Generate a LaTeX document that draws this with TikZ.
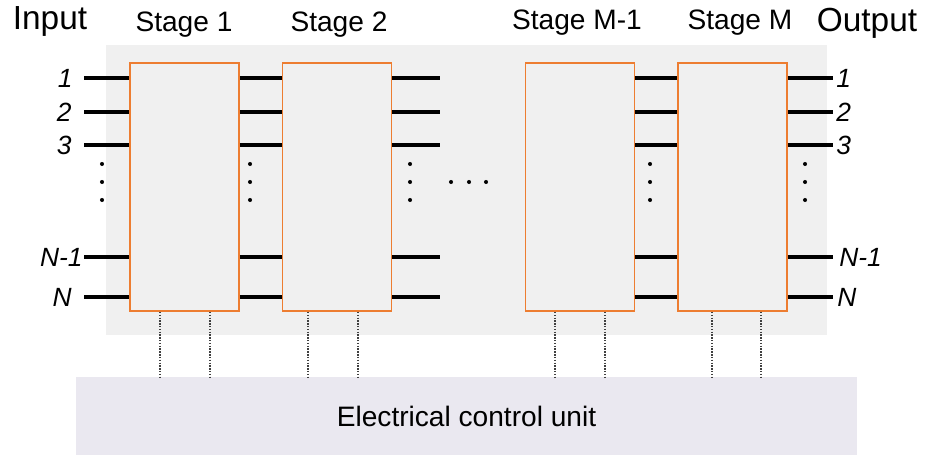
\documentclass[tikz,border=0pt]{standalone}
\usepackage{fontspec}
\setmainfont{Liberation Sans}
\usepackage{tikz}
\usetikzlibrary{positioning,calc}
\definecolor{stOrange}{RGB}{237,125,49}
\definecolor{panelGray}{RGB}{240,240,240}
\definecolor{unitGray}{RGB}{234,232,240}
\tikzset{
	stagebox/.style={
		draw=stOrange,
		fill=panelGray,
		line width=1.1pt,
		minimum width=2.18cm,
		minimum height=4.96cm,
		inner sep=0pt
	},
	wire/.style={line width=2pt, black},
	ctl/.style={line width=0.7pt, black!75, dash pattern=on 0.8pt off 0.8pt},
	numlab/.style={font=\fontsize{15}{17}\selectfont\itshape, inner sep=0pt},
	stlab/.style={font=\fontsize{16}{18}\selectfont, anchor=base, inner sep=0pt},
	iolab/.style={font=\fontsize{19}{21}\selectfont, anchor=base, inner sep=0pt},
	vdot/.style={fill=black}
}

\begin{document}
\begin{tikzpicture}[x=0.02cm, y=-0.02cm]
		\useasboundingbox (0,0) rectangle (925,455);
		\fill[panelGray] (106,45) rectangle (827,335);
		\node[fill=unitGray, minimum width=15.62cm, minimum height=1.56cm, inner sep=0pt, font=\fontsize{16}{18}\selectfont] (ecu) at (466.5,416) {Electrical control unit};
		\node[stagebox] (s1) at (184.5,187) {};
		\node[stagebox] (s2) at (337,187) {};
		\node[stagebox] (s3) at (580,187) {};
		\node[stagebox] (s4) at (732.5,187) {};
		\node[iolab] (inp) at (50,30) {Input};
		\node[iolab] (outp) at (867,32) {Output};
		\node[stlab] (l1) at (184,32) {Stage 1};
		\node[stlab] (l2) at (339,32) {Stage 2};
		\node[stlab] (l3) at (577,30) {Stage M-1};
		\node[stlab] (l4) at (740,30) {Stage M};
		\foreach \r in {78,112,145,257,297} {
			\coordinate (r) at (0,\r);
			\coordinate (a) at (84,\r);
			\coordinate (b) at (440,\r);
			\coordinate (c) at (833,\r);
			\draw[wire] (a) -- (s1.west |- r);
			\draw[wire] (s1.east |- r) -- (s2.west |- r);
			\draw[wire] (s2.east |- r) -- (b);
			\draw[wire] (s3.east |- r) -- (s4.west |- r);
			\draw[wire] (s4.east |- r) -- (c);
		}
		\node[numlab, anchor=east] (i1) at (73,78) {1};
		\node[numlab, anchor=east] (i2) at (72,112) {2};
		\node[numlab, anchor=east] (i3) at (72,145) {3};
		\node[numlab, anchor=east] (i4) at (83,257) {N-1};
		\node[numlab, anchor=east] (i5) at (72,297) {N};
		\node[numlab, anchor=west] (o1) at (836,78) {1};
		\node[numlab, anchor=west] (o2) at (836,112) {2};
		\node[numlab, anchor=west] (o3) at (836,145) {3};
		\node[numlab, anchor=west] (o4) at (839,257) {N-1};
		\node[numlab, anchor=west] (o5) at (837,297) {N};
		\foreach \x in {102,250,410,650,805}
			\foreach \y in {164,182,200}
				\fill[vdot] (\x,\y) circle[radius=1.15pt];
		\foreach \x in {451,469,486}
			\fill[vdot] (\x,182) circle[radius=1.15pt];
		\foreach \x/\s in {160/s1,210/s1,308/s2,358/s2,555/s3,605/s3,712/s4,761/s4} {
			\coordinate (d) at (\x,0);
			\draw[ctl] (\s.south -| d) -- (ecu.north -| d);
		}
	\end{tikzpicture}
\end{document}
